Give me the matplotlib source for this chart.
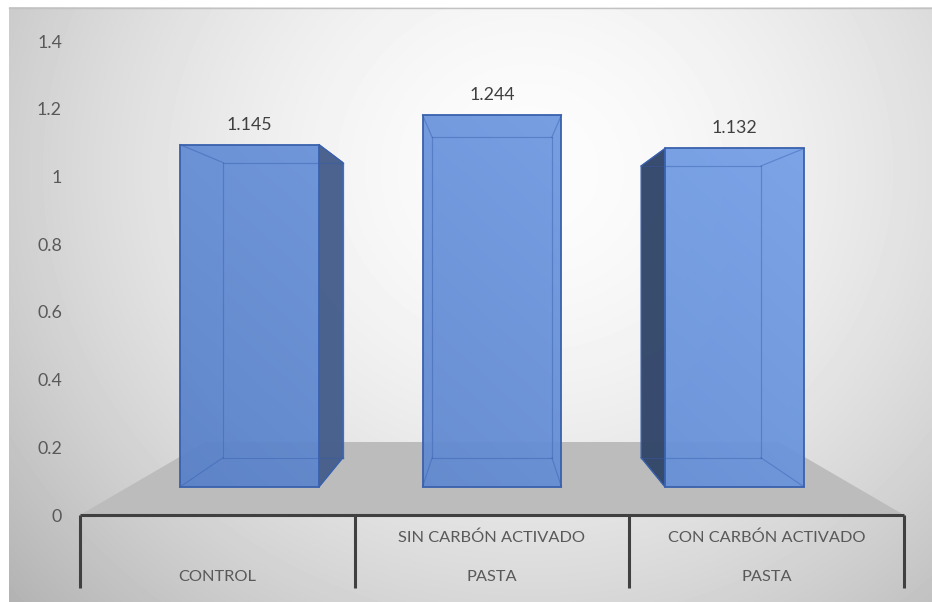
import numpy as np
import matplotlib.pyplot as plt
from matplotlib.patches import Polygon

# data
values = [1.145, 1.244, 1.132]
value_labels = ["1.145", "1.244", "1.132"]
inner_labels = ["", "SIN CARBÓN ACTIVADO", "CON CARBÓN ACTIVADO"]
outer_labels = ["CONTROL", "PASTA", "PASTA"]
y_ticks = [0, 0.2, 0.4, 0.6, 0.8, 1.0, 1.2, 1.4]

plt.rcParams['font.family'] = ['Lato', 'DejaVu Sans']
text_col = '#595959'

W, H = 932, 602
fig = plt.figure(figsize=(W / 100, H / 100), dpi=100)

# chart area background with a soft radial gradient
bg = fig.add_axes([0, 0, 1, 1])
bg.axis('off')
gx, gy = np.meshgrid(np.arange(9, W), np.arange(7, H))
r = np.sqrt(((gx - 530) / 560) ** 2 + ((gy - 170) / 520) ** 2)
shade = 0.99 - 0.2 * np.clip(r, 0, 1.4) ** 1.7
bg.imshow(shade, cmap='gray', vmin=0, vmax=1, extent=(9, W, H, 7),
          interpolation='bilinear', aspect='auto')
bg.plot([9, W], [7.5, 7.5], color='#c2c2c2', lw=1)
bg.set_xlim(0, W)
bg.set_ylim(H, 0)

# plot axes: x in category units, y in value units (front plane)
ax = fig.add_axes([80 / W, 87 / H, 824 / W, 474 / H])
ax.patch.set_visible(False)
for s in ax.spines.values():
    s.set_visible(False)

# simple one-point perspective toward (vx, vy)
vx, vy = 1.5, 0.709
z_front, z_back, z_floor = 0.1325, 0.314, 0.437
bar_w = 0.573


def proj(x, y, z):
    s = 1.0 / (1.0 + z)
    return vx + (x - vx) * s, vy + (y - vy) * s


n = len(values)

# floor
floor = Polygon([proj(0, 0, 0), proj(n, 0, 0), proj(n, 0, z_floor), proj(0, 0, z_floor)],
                closed=True, facecolor='#bcbcbc', edgecolor='none', zorder=1)
ax.add_patch(floor)

# lighting for the front faces
fx, fy = np.meshgrid(np.linspace(0, n, 300), np.linspace(0, 1.4, 300))
t = np.clip(-0.05 + 0.2 * fx + 0.35 * fy / 1.3, 0, 1)
c_dark = np.array([0.34, 0.50, 0.78])
c_light = np.array([0.49, 0.66, 0.94])
front_rgb = c_dark[None, None, :] * (1 - t[..., None]) + c_light[None, None, :] * t[..., None]

edge_col = '#3a61ad'

for i, v in enumerate(values):
    xc = i + 0.5
    x0, x1 = xc - bar_w / 2, xc + bar_w / 2

    front = [proj(x0, 0, z_front), proj(x1, 0, z_front), proj(x1, v, z_front), proj(x0, v, z_front)]
    back = [proj(x0, 0, z_back), proj(x1, 0, z_back), proj(x1, v, z_back), proj(x0, v, z_back)]

    # hidden back edges, seen through the translucent box
    for a, b in zip(back, back[1:] + back[:1]):
        ax.plot([a[0], b[0]], [a[1], b[1]], color=edge_col, lw=0.9, alpha=0.7, zorder=2)
    for a, b in zip(front, back):
        ax.plot([a[0], b[0]], [a[1], b[1]], color=edge_col, lw=0.9, alpha=0.7, zorder=2)

    # visible side face
    side = None
    if xc < vx:
        side = [proj(x1, 0, z_front), proj(x1, 0, z_back), proj(x1, v, z_back), proj(x1, v, z_front)]
        side_col = '#455e8b'
    elif xc > vx:
        side = [proj(x0, 0, z_front), proj(x0, 0, z_back), proj(x0, v, z_back), proj(x0, v, z_front)]
        side_col = '#32466a'
    if side is not None:
        ax.add_patch(Polygon(side, closed=True, facecolor=side_col, edgecolor=edge_col,
                             lw=0.9, alpha=0.97, zorder=3))

    # front face with shading, clipped to the face
    face = Polygon(front, closed=True, facecolor='none', edgecolor='none', zorder=4)
    ax.add_patch(face)
    im = ax.imshow(front_rgb, extent=(0, n, 0, 1.4), origin='lower', aspect='auto',
                   alpha=0.94, zorder=4, interpolation='bilinear')
    im.set_clip_path(face)
    for a, b in zip(back, back[1:] + back[:1]):
        ax.plot([a[0], b[0]], [a[1], b[1]], color=edge_col, lw=0.8, alpha=0.4, zorder=5)
    for a, b in zip(front, back):
        ax.plot([a[0], b[0]], [a[1], b[1]], color=edge_col, lw=0.8, alpha=0.4, zorder=5)
    ax.add_patch(Polygon(front, closed=True, facecolor='none', edgecolor=edge_col,
                         lw=1.3, zorder=6))

    # value label
    lx, ly = proj(xc, v, z_front)
    ax.annotate(value_labels[i], (lx, ly), xytext=(0, 14.4), textcoords='offset points',
                ha='center', va='center', fontsize=12.8, color='#404040', zorder=7)

# category axis with two label rows
ax.plot([0, n], [0, 0], color='#404040', lw=2.2, solid_capstyle='butt', clip_on=False, zorder=6)
for k in range(n + 1):
    ax.plot([k, k], [0, -0.216], color='#404040', lw=2.2, solid_capstyle='butt',
            clip_on=False, zorder=6)
for i in range(n):
    ax.text(i + 0.5, -0.068, inner_labels[i], ha='center', va='center', fontsize=11.8,
            color=text_col)
    ax.text(i + 0.5, -0.183, outer_labels[i], ha='center', va='center', fontsize=11.8,
            color=text_col)

ax.set_xlim(0, n)
ax.set_ylim(0, 1.4)
ax.set_xticks([])
ax.set_yticks(y_ticks)
ax.set_yticklabels([f'{v:g}' for v in y_ticks])
ax.tick_params(axis='y', length=0, pad=13, labelsize=12.8, labelcolor=text_col)

fig.savefig('out.png', dpi=100)
